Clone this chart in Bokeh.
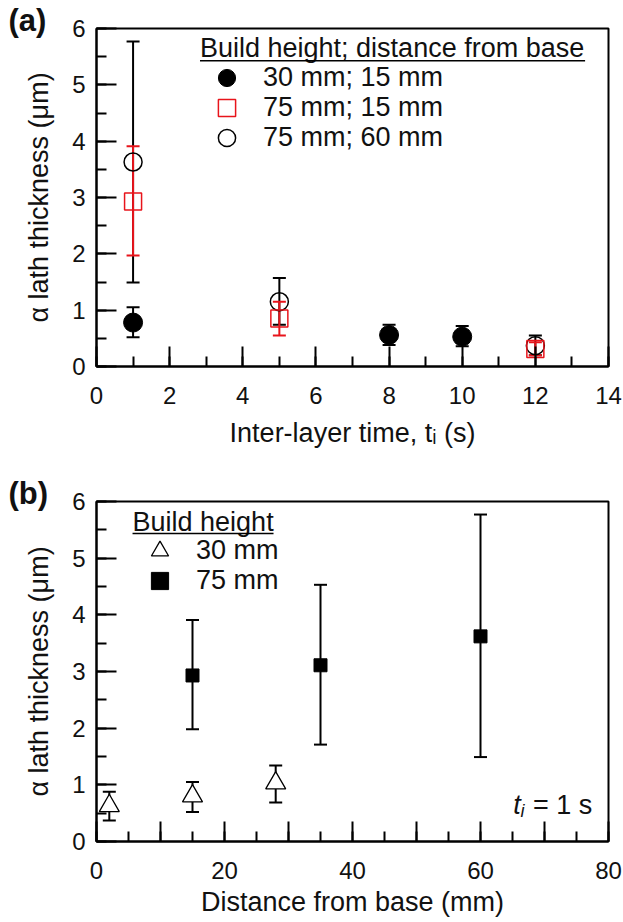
from bokeh.plotting import figure
from bokeh.models import (Range1d, SingleIntervalTicker, Whisker, TeeHead, ColumnDataSource,
                          Legend, LegendItem, Label, BoxAnnotation)
from bokeh.layouts import column
from bokeh.embed import file_html
from bokeh.resources import INLINE

FONT = "Liberation Sans"
RED = "#e8141b"
INK = "#111111"

# ---------------- Panel (a) data: inter-layer time (s) vs alpha lath thickness (um)
a_t_30_15 = [1, 8, 10]
a_v_30_15 = [0.78, 0.56, 0.53]
a_lo_30_15 = [0.52, 0.38, 0.36]
a_hi_30_15 = [1.05, 0.74, 0.72]

a_t_75_15 = [1, 5, 12]
a_v_75_15 = [2.93, 0.85, 0.31]
a_lo_75_15 = [1.97, 0.55, 0.20]
a_hi_75_15 = [3.91, 1.15, 0.43]

a_t_75_60 = [1, 5, 12]
a_v_75_60 = [3.63, 1.15, 0.37]
a_lo_75_60 = [1.49, 0.74, 0.20]
a_hi_75_60 = [5.77, 1.57, 0.55]

a_legend_labels = ["30 mm; 15 mm", "75 mm; 15 mm", "75 mm; 60 mm"]

# ---------------- Panel (b) data: distance from base (mm) vs thickness, t_i = 1 s
b_d_30 = [2, 15, 28]
b_v_30 = [0.63, 0.80, 1.03]
b_lo_30 = [0.37, 0.52, 0.69]
b_hi_30 = [0.88, 1.05, 1.34]

b_d_75 = [15, 35, 60]
b_v_75 = [2.93, 3.11, 3.62]
b_lo_75 = [1.98, 1.71, 1.49]
b_hi_75 = [3.91, 4.53, 5.77]

b_legend_labels = ["30 mm", "75 mm"]


def style(p, xlabel, ylabel, xlabel_standoff, panel_tag):
    p.xgrid.visible = False
    p.ygrid.visible = False
    p.background_fill_color = "white"
    p.border_fill_color = "white"
    p.outline_line_color = "black"
    p.outline_line_width = 2
    p.outline_line_alpha = 1
    for ax in (p.xaxis[0], p.yaxis[0]):
        ax.axis_line_width = 2
        ax.axis_line_color = "black"
        ax.major_tick_line_width = 2
        ax.minor_tick_line_width = 2
        ax.major_tick_line_color = "black"
        ax.minor_tick_line_color = "black"
        ax.major_tick_in = 20
        ax.major_tick_out = 0
        ax.minor_tick_in = 10
        ax.minor_tick_out = 0
        ax.major_label_text_font = FONT
        ax.major_label_text_font_size = "24px"
        ax.major_label_text_color = INK
        ax.axis_label_text_font = FONT
        ax.axis_label_text_font_size = "27px"
        ax.axis_label_text_font_style = "normal"
        ax.axis_label_text_color = INK
    p.xaxis[0].axis_label = xlabel
    p.yaxis[0].axis_label = ylabel
    p.xaxis[0].major_label_standoff = 20
    p.xaxis[0].axis_label_standoff = xlabel_standoff
    p.yaxis[0].major_label_standoff = 11
    p.yaxis[0].axis_label_standoff = 15
    # panel tag "(a)" / "(b)" as a left-aligned title pulled to the canvas edge
    p.title.text = panel_tag
    p.title.align = "left"
    p.title.offset = -88
    p.title.standoff = -18
    p.title.text_font = FONT
    p.title.text_font_size = "31px"
    p.title.text_font_style = "bold"
    p.title.text_color = INK


def whisker(p, x, lo, hi, color, size=13):
    src = ColumnDataSource(dict(x=x, lo=lo, hi=hi))
    w = Whisker(source=src, base="x", lower="lo", upper="hi", dimension="height",
                line_color=color, line_width=2, level="underlay",
                upper_head=TeeHead(size=size, line_color=color, line_width=2),
                lower_head=TeeHead(size=size, line_color=color, line_width=2))
    p.add_layout(w)


def add_legend(p, labels, renderers, x, y_bottoms, standoff):
    for lab, r, yb in zip(labels, renderers, y_bottoms):
        leg = Legend(items=[LegendItem(label=lab, renderers=[r])],
                     location=(x, yb), orientation="vertical",
                     glyph_width=43, glyph_height=43, spacing=0, padding=0, margin=0,
                     label_standoff=standoff, label_text_font=FONT,
                     label_text_font_size="27px", label_text_color=INK,
                     border_line_alpha=0, background_fill_alpha=0)
        p.add_layout(leg)


# ================= Panel (a)
p1 = figure(frame_width=512, frame_height=338, x_range=Range1d(0, 14), y_range=Range1d(0, 6),
            output_backend="svg", toolbar_location=None,
            min_border_left=96, min_border_right=14, min_border_top=28, min_border_bottom=84)
style(p1, "Inter-layer time, t\u1d62 (s)", "\u03b1 lath thickness (\u03bcm)", 11, "(a)")
p1.xaxis[0].ticker = SingleIntervalTicker(interval=2, num_minor_ticks=2)
p1.yaxis[0].ticker = SingleIntervalTicker(interval=1, num_minor_ticks=2)

whisker(p1, a_t_75_60, a_lo_75_60, a_hi_75_60, "black")
whisker(p1, a_t_30_15, a_lo_30_15, a_hi_30_15, "black")
whisker(p1, a_t_75_15, a_lo_75_15, a_hi_75_15, RED)

r_a3 = p1.scatter(a_t_75_60, a_v_75_60, marker="circle", size=18, fill_alpha=0,
                  line_color="black", line_width=1.5)
r_a2 = p1.scatter(a_t_75_15, a_v_75_15, marker="square", size=17, fill_alpha=0,
                  line_color=RED, line_width=1.5)
r_a1 = p1.scatter(a_t_30_15, a_v_30_15, marker="circle", size=19, fill_color="black",
                  line_color="black")

add_legend(p1, a_legend_labels, [r_a1, r_a2, r_a3], 109, [267, 237, 207], 15)

p1.add_layout(Label(x=2.83, y=5.645, text="Build height; distance from base",
                    text_font=FONT, text_font_size="27px", text_color=INK,
                    text_baseline="alphabetic"))
p1.add_layout(BoxAnnotation(left=2.83, right=13.36, bottom=5.415, top=5.443,
                            fill_color="black", fill_alpha=1, line_alpha=0))

# ================= Panel (b)
p2 = figure(frame_width=512, frame_height=340, x_range=Range1d(0, 80), y_range=Range1d(0, 6),
            output_backend="svg", toolbar_location=None,
            min_border_left=96, min_border_right=14, min_border_top=51, min_border_bottom=70)
style(p2, "Distance from base (mm)", "\u03b1 lath thickness (\u03bcm)", 5, "(b)")
p2.xaxis[0].ticker = SingleIntervalTicker(interval=10, num_minor_ticks=2)
p2.xaxis[0].major_label_overrides = {10: "", 30: "", 50: "", 70: ""}
p2.yaxis[0].ticker = SingleIntervalTicker(interval=1, num_minor_ticks=2)

whisker(p2, b_d_30, b_lo_30, b_hi_30, "black")
whisker(p2, b_d_75, b_lo_75, b_hi_75, "black")

r_b1 = p2.scatter(b_d_30, b_v_30, marker="triangle", size=20, fill_color="white",
                  line_color="black", line_width=1.3)
r_b2 = p2.scatter(b_d_75, b_v_75, marker="square", size=13, fill_color="black",
                  line_color="black")

add_legend(p2, b_legend_labels, [r_b1, r_b2], 42, [269, 239], 15)

p2.add_layout(Label(x=5.63, y=5.645, text="Build height",
                    text_font=FONT, text_font_size="27px", text_color=INK,
                    text_baseline="alphabetic"))
p2.add_layout(BoxAnnotation(left=5.63, right=27.66, bottom=5.42, top=5.448,
                            fill_color="black", fill_alpha=1, line_alpha=0))

p2.add_layout(Label(x=65.1, y=0.65, text="t", text_font=FONT, text_font_size="27px",
                    text_font_style="italic", text_color=INK, text_baseline="alphabetic"))
p2.add_layout(Label(x=66.25, y=0.54, text="i", text_font=FONT, text_font_size="18px",
                    text_font_style="italic", text_color=INK, text_baseline="alphabetic"))
p2.add_layout(Label(x=68.2, y=0.65, text="= 1 s", text_font=FONT, text_font_size="27px",
                    text_color=INK, text_baseline="alphabetic"))

layout = column(p1, p2)
open("out.html", "w").write(file_html(layout, INLINE))
